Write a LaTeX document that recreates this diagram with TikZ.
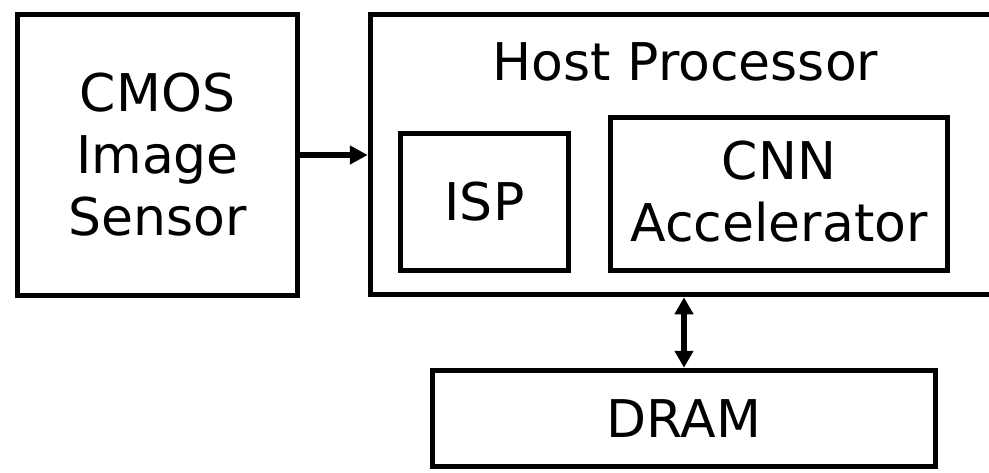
\documentclass[tikz,border=0pt]{standalone}
\usepackage{fontspec}
\setmainfont{DejaVu Sans}
\usetikzlibrary{arrows.meta}
\begin{document}
\begin{tikzpicture}[x=1pt,y=-1pt,
  blk/.style={draw, line width=5.5pt, inner sep=0pt, align=center, font=\fontsize{52}{62}\selectfont},
  lbl/.style={inner sep=0pt, font=\fontsize{52}{62}\selectfont},
  conn/.style={line width=5.5pt, -{Triangle[length=18pt,width=18pt]}},
  dconn/.style={line width=5.5pt, {Triangle[length=17pt,width=18pt]}-{Triangle[length=17pt,width=18pt]}}]
\useasboundingbox (0,0) rectangle (989,472);
\fill[white] (0,0) rectangle (989,472);
\clip (0,0) rectangle (989,472);
\node[blk, minimum width=280pt, minimum height=281pt] (cmos) at (157.5,155) {CMOS\\Image\\Sensor};
\node[blk, minimum width=640pt, minimum height=280pt] (host) at (690.5,154.5) {};
\node[lbl, anchor=base] (hosttxt) at (685.5,80) {Host Processor};
\node[blk, minimum width=168pt, minimum height=137pt] (isp) at (484.5,202) {ISP};
\node[blk, minimum width=337pt, minimum height=153pt, text depth=6pt] (cnn) at (779,194) {CNN\\Accelerator};
\node[blk, minimum width=503pt, minimum height=96pt] (dram) at (684,418.5) {DRAM};
\draw[conn] (cmos.east) -- (host.west |- cmos.east);
\draw[dconn] (dram.north |- host.south) -- (dram.north);
\end{tikzpicture}
\end{document}
